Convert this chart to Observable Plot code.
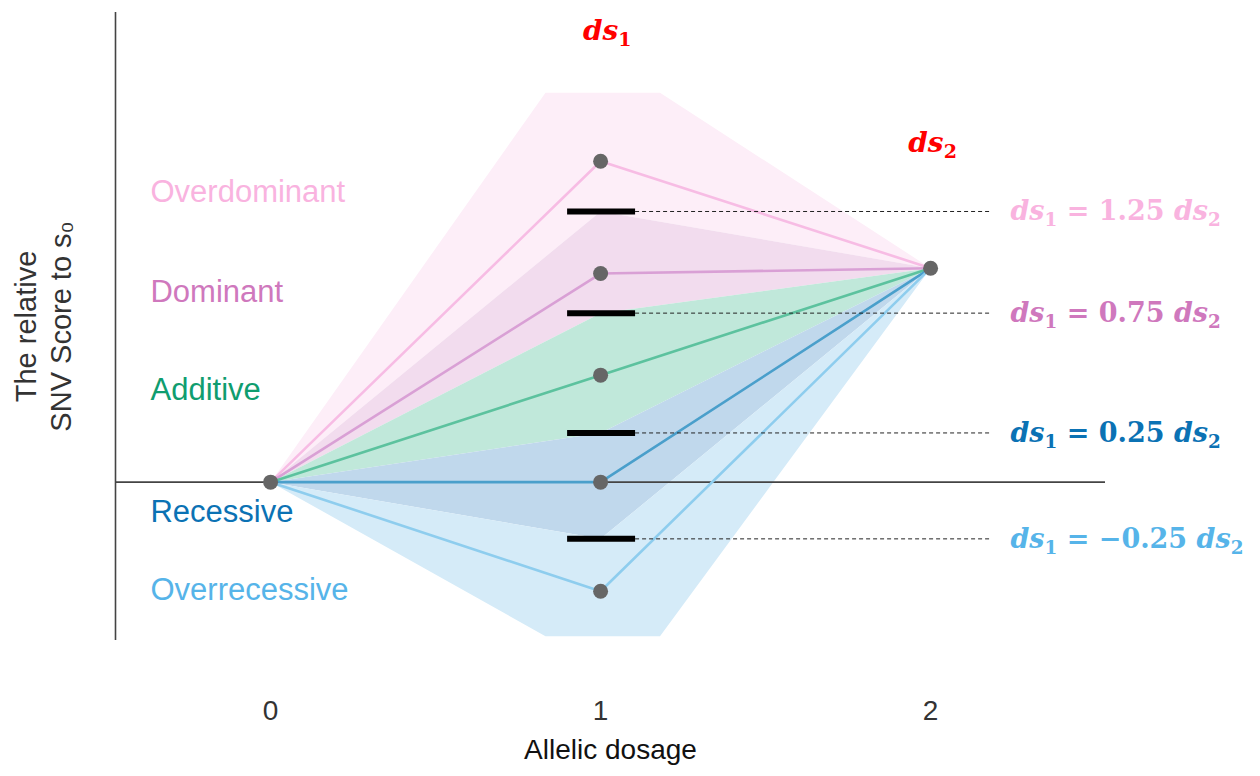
<!DOCTYPE html>
<html>
<head>
<meta charset="utf-8">
<script src="https://cdn.jsdelivr.net/npm/d3@7"></script>
<script src="https://cdn.jsdelivr.net/npm/@observablehq/plot@0.6"></script>
<style>
  html, body { margin: 0; padding: 0; background: #fff; }
  #chart { width: 1260px; height: 776px; }
</style>
</head>
<body>
<div id="chart"></div>
<script>
// ---- data ----
const types = ["Overdominant", "Dominant", "Additive", "Recessive", "Overrecessive"];
const dosage = [0, 1, 2];
const scoreAt0 = 0;
const scoreAt2 = 2;
const scoreAt1 = [3.0, 1.95, 1.0, 0.0, -1.02];          // per type, at dosage 1
const lineColors = ["#f7bce4", "#d9a0d5", "#5cc29e", "#4a9fcb", "#8ecdee"];
const labelColors = ["#f9b3df", "#cf78bd", "#0f9d6f", "#0b72b4", "#56b4e9"];
const labelY = [2.71, 1.78, 0.86, -0.28, -1.01];

// thresholds between classes at dosage 1
const thresholds = [2.53, 1.58, 0.46, -0.53];
const thresholdCoef = ["1.25", "0.75", "0.25", "\u22120.25"];
const thresholdColors = ["#f9b3df", "#cf78bd", "#0b72b4", "#56b4e9"];

// shaded class regions (vertices in data units)
const regionNames = ["Overdominant", "Dominant", "Additive", "Recessive", "Overrecessive"];
const regionFills = ["#fdeef8", "#f2dcee", "#c0e8da", "#c0d8ec", "#d5ebf8"];
const regionPolys = [
  [[0, 0], [0.833, 3.64], [1.18, 3.64], [2, 2], [1, 2.53]],
  [[0, 0], [1, 2.53], [2, 2], [1, 1.58]],
  [[0, 0], [1, 1.58], [2, 2], [1, 0.46]],
  [[0, 0], [1, 0.46], [2, 2], [1, -0.53]],
  [[0, 0], [1, -0.53], [2, 2], [1.18, -1.44], [0.833, -1.44]]
];

const xDomain = [-0.47, 2.53];
const yDomain = [-1.48, 4.39];
const xTicks = [0, 1, 2];
const barX = [0.9, 1.106];
const dashX = [1.106, 2.182];
const leftLabelX = -0.364;
const rightLabelX = 2.242;
const topLabels = [{text: "ds1", x: 1.02, y: 4.22}, {text: "ds2", x: 2.006, y: 3.17}];

// ---- derived tables ----
const lineRows = types.flatMap((t, i) => [
  {type: t, x: dosage[0], y: scoreAt0},
  {type: t, x: dosage[1], y: scoreAt1[i]},
  {type: t, x: dosage[2], y: scoreAt2}
]);
const pointRows = [{x: dosage[0], y: scoreAt0}, {x: dosage[2], y: scoreAt2}]
  .concat(scoreAt1.map(v => ({x: dosage[1], y: v})));
const labelRows = types.map((t, i) => ({text: t, y: labelY[i], color: labelColors[i]}));
const mathRows = thresholds.map((v, i) => ({
  text: `ds1 = ${thresholdCoef[i]} ds2`, y: v, color: thresholdColors[i]
}));

const sans = "'Liberation Sans', Arial, 'DejaVu Sans', sans-serif";

const marks = [];
regionPolys.forEach((poly, i) => {
  marks.push(Plot.line(poly, {
    x: d => d[0], y: d => d[1], fill: regionFills[i], stroke: "none"
  }));
});
marks.push(Plot.ruleY([0], {stroke: "#444", strokeWidth: 1.6}));
marks.push(Plot.ruleX([xDomain[0]], {stroke: "#444", strokeWidth: 1.6}));
types.forEach((t, i) => {
  marks.push(Plot.line(lineRows.filter(d => d.type === t), {
    x: "x", y: "y", stroke: lineColors[i], strokeWidth: 2.6
  }));
});
marks.push(Plot.ruleY(thresholds, {
  y: d => d, x1: dashX[0], x2: dashX[1], stroke: "#222", strokeWidth: 1, strokeDasharray: "4,3"
}));
marks.push(Plot.ruleY(thresholds, {
  y: d => d, x1: barX[0], x2: barX[1], stroke: "#000", strokeWidth: 6
}));
marks.push(Plot.dot(pointRows, {x: "x", y: "y", r: 7.5, fill: "#666", stroke: "none"}));
marks.push(Plot.text(labelRows, {
  x: leftLabelX, y: "y", text: "text", fill: "color", textAnchor: "start",
  fontSize: 31, fontFamily: sans
}));
marks.push(Plot.text(mathRows, {
  x: rightLabelX, y: "y", text: "text", fill: "color", textAnchor: "start",
  fontSize: 27, className: "math"
}));
marks.push(Plot.text(topLabels, {
  x: "x", y: "y", text: "text", fill: "#ff0000", textAnchor: "middle",
  fontSize: 28, className: "math"
}));
marks.push(Plot.axisX(xTicks, {
  tickSize: 0, tickPadding: 60, fontSize: 28, fill: "#333", label: null, fontFamily: sans,
  tickFormat: d => String(d)
}));
marks.push(Plot.text(["Allelic dosage"], {
  frameAnchor: "bottom", dy: 118, fontSize: 28, fill: "#111", fontFamily: sans
}));
marks.push(Plot.text(["The relative\nSNV Score to s\u2080"], {
  frameAnchor: "left", textAnchor: "middle", dx: -73, rotate: -90, fontSize: 29, fill: "#333",
  fontFamily: sans, lineHeight: 1.2
}));

const chart = Plot.plot({
  width: 1260,
  height: 776,
  marginTop: 12,
  marginBottom: 136,
  marginLeft: 115,
  marginRight: 155,
  x: {domain: xDomain, axis: null},
  y: {domain: yDomain, axis: null},
  style: {background: "#fff", fontFamily: sans, overflow: "visible"},
  marks
});

// render ds with italic-bold letters and subscript digits
d3.select(chart).selectAll("g.math text").each(function () {
  const el = d3.select(this);
  const str = this.textContent;
  el.text("");
  el.attr("font-family", "'DejaVu Serif', 'Liberation Serif', serif").attr("font-weight", "bold");
  const parts = str.split(/(ds\d)/).filter(s => s.length);
  let shifted = false;
  parts.forEach(p => {
    const m = p.match(/^ds(\d)$/);
    if (m) {
      const a = el.append("tspan").attr("font-style", "italic").text("ds");
      if (shifted) { a.attr("dy", -6); shifted = false; }
      el.append("tspan").attr("font-size", "0.68em").attr("dy", 6).text(m[1]);
      shifted = true;
    } else {
      const a = el.append("tspan").text(p.replace(/ /g, "\u00a0"));
      if (shifted) { a.attr("dy", -6); shifted = false; }
    }
  });
});

document.getElementById("chart").appendChild(chart);
</script>
</body>
</html>
